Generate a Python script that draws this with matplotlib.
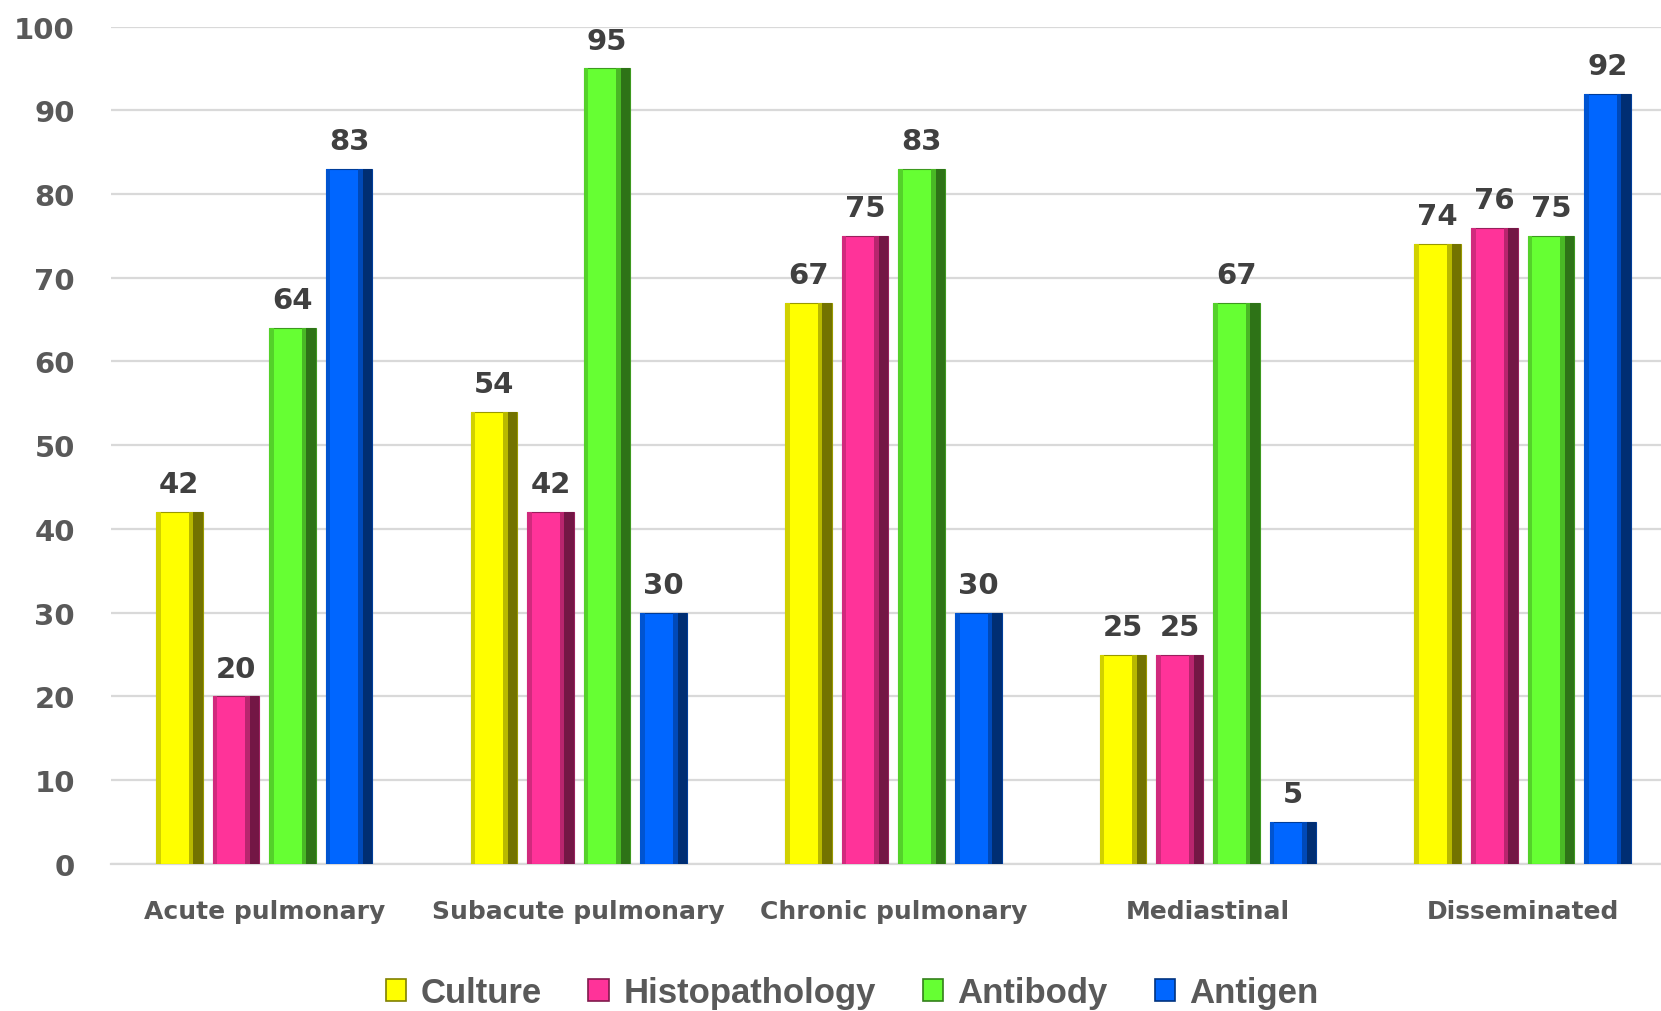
import matplotlib

matplotlib.use("Agg")
import matplotlib.pyplot as plt
import numpy as np
from matplotlib.patches import Patch

categories = ["Acute pulmonary", "Subacute pulmonary", "Chronic pulmonary", "Mediastinal", "Disseminated"]
series_names = ["Culture", "Histopathology", "Antibody", "Antigen"]
culture = [42, 54, 67, 25, 74]
histopathology = [20, 42, 75, 25, 76]
antibody = [64, 95, 83, 67, 75]
antigen = [83, 30, 30, 5, 92]
y_ticks = [0, 10, 20, 30, 40, 50, 60, 70, 80, 90, 100]

colors = ["#FFFF00", "#FF3399", "#66FF33", "#0066FF"]
TEXT = "#404040"
TICK = "#595959"

plt.rcParams["font.family"] = ["DejaVu Sans"]
plt.rcParams["font.weight"] = "bold"


def shade(color, factor):
    rgb = np.array(matplotlib.colors.to_rgb(color))
    return tuple(rgb * factor)


fig = plt.figure(figsize=(16.61, 10.12), dpi=100)
ax = fig.add_axes([0.0668, 0.1453, 0.947, 0.8275])

x = np.arange(len(categories))
pitch = 0.18
width = 0.148
values = [culture, histopathology, antibody, antigen]

for i, (vals, col) in enumerate(zip(values, colors)):
    pos = x + (i - 1.5) * pitch
    ax.bar(pos, vals, width=width, color=col, edgecolor=shade(col, 0.6), linewidth=0.8, zorder=3)
    # bevel shading: dark right side, slightly darker left side
    ax.bar(pos + width * 0.40, vals, width=width * 0.2, color=shade(col, 0.45), linewidth=0, zorder=4)
    ax.bar(pos + width * 0.25, vals, width=width * 0.1, color=shade(col, 0.72), linewidth=0, zorder=4)
    ax.bar(pos - width * 0.45, vals, width=width * 0.1, color=shade(col, 0.82), linewidth=0, zorder=4)
    for xp, v in zip(pos, vals):
        ax.annotate(
            f"{v}",
            (xp, v),
            xytext=(0, 10),
            textcoords="offset points",
            ha="center",
            va="bottom",
            fontsize=21,
            fontweight="bold",
            color=TEXT,
            zorder=5,
        )

ax.set_xlim(-0.487, len(categories) - 0.487)
ax.set_ylim(0, 100)
ax.set_yticks(y_ticks)
ax.set_yticklabels([str(t) for t in y_ticks], fontsize=21, fontweight="bold", color=TICK)
ax.set_xticks(x)
ax.set_xticklabels(categories, fontsize=18, fontweight="bold", color=TICK)
ax.tick_params(axis="y", length=0, pad=26)
ax.tick_params(axis="x", length=0, pad=25)
ax.yaxis.grid(True, color="#D9D9D9", linewidth=1.6, zorder=0)
ax.set_axisbelow(True)
for side in ["top", "right", "left"]:
    ax.spines[side].set_visible(False)
ax.spines["bottom"].set_color("#D9D9D9")
ax.spines["bottom"].set_linewidth(1.6)

handles = [Patch(facecolor=c, edgecolor=shade(c, 0.5), linewidth=1.2) for c in colors]
fig.legend(
    handles,
    series_names,
    loc="center",
    bbox_to_anchor=(0.513, 0.018),
    ncol=4,
    frameon=False,
    prop={"family": ["Liberation Sans", "DejaVu Sans"], "weight": "bold", "size": 25},
    labelcolor=TICK,
    handlelength=0.6,
    handleheight=0.6,
    handletextpad=0.4,
    columnspacing=1.35,
)

fig.savefig("out.png", dpi=100)
